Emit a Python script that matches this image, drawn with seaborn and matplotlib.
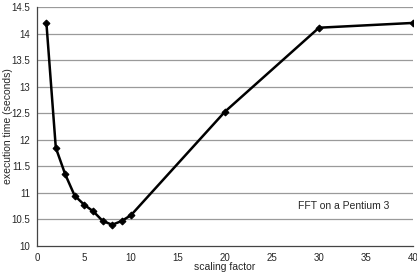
import matplotlib
matplotlib.use("Agg")
import matplotlib.pyplot as plt
import seaborn as sns
import pandas as pd

scaling = [1, 2, 3, 4, 5, 6, 7, 8, 9, 10, 20, 30, 40]
exec_time = [14.2, 11.85, 11.35, 10.95, 10.78, 10.65, 10.47, 10.4, 10.47, 10.58, 12.53, 14.11, 14.2]
xticks = [0, 5, 10, 15, 20, 25, 30, 35, 40]
yticks = [10, 10.5, 11, 11.5, 12, 12.5, 13, 13.5, 14, 14.5]
ylabels = ["10", "10.5", "11", "11.5", "12", "12.5", "13", "13.5", "14", "14.5"]

df = pd.DataFrame({"scaling factor": scaling, "execution time (seconds)": exec_time})

sns.set_style("white")
plt.rcParams['font.family'] = ['Liberation Sans', 'DejaVu Sans']

fig = plt.figure(figsize=(4.17, 2.74), dpi=100)
ax = fig.add_axes([37/417, 1 - 246/274, (413-37)/417, (246-7)/274])

for y in yticks[1:]:
    ax.axhline(y, color="#9a9a9a", lw=0.9, zorder=0)

sns.lineplot(data=df, x="scaling factor", y="execution time (seconds)", ax=ax,
             color="black", lw=1.8, marker="D", markersize=3.5,
             markeredgecolor="black", markerfacecolor="black")

ax.set_xlim(0, 40)
ax.set_ylim(10, 14.5)
ax.set_xticks(xticks)
ax.set_xticklabels([str(t) for t in xticks])
ax.set_yticks(yticks)
ax.set_yticklabels(ylabels)
ax.tick_params(axis="both", labelsize=7, length=3, width=0.8, color="#444444", direction="out", pad=2)
for s in ["top", "right"]:
    ax.spines[s].set_visible(False)
for s in ["left", "bottom"]:
    ax.spines[s].set_color("#444444")
    ax.spines[s].set_linewidth(0.9)
ax.set_xlabel("scaling factor", fontsize=7.5)
ax.set_ylabel("execution time (seconds)", fontsize=7.5)
ax.xaxis.set_label_coords(0.5, -(267 - 246) / 239, transform=ax.transAxes)
ax.xaxis.label.set_va("center")
ax.yaxis.set_label_coords(-(37 - 8) / 376, 0.5, transform=ax.transAxes)
ax.yaxis.label.set_va("center")
ax.text(37.5, 10.75, "FFT on a Pentium 3", fontsize=7.5, ha="right", va="center")

fig.savefig("out.png", dpi=100)
